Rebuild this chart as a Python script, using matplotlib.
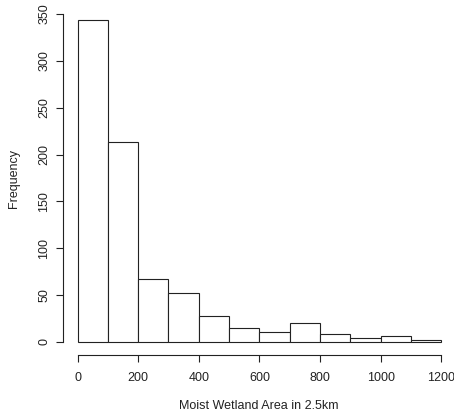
import matplotlib
matplotlib.use("Agg")
import matplotlib.pyplot as plt
import numpy as np

# histogram of moist wetland area (R-style hist)
bin_edges = [0, 100, 200, 300, 400, 500, 600, 700, 800, 900, 1000, 1100, 1200]
counts = [344, 213, 67, 52, 28, 15, 11, 20, 8, 4, 6, 2]
x_ticks = [0, 200, 400, 600, 800, 1000, 1200]
y_ticks = [0, 50, 100, 150, 200, 250, 300, 350]

plt.rcParams['font.family'] = ['Liberation Sans', 'DejaVu Sans']

fig = plt.figure(figsize=(4.54, 4.18), dpi=100)
W, H = 454, 418
ax = fig.add_axes([63 / W, 1 - 355 / H, (454 - 63) / W, (355 - 1) / H])

ax.hist(bin_edges[:-1], bins=bin_edges, weights=counts,
        facecolor='white', edgecolor='#222222', linewidth=0.8)

ax.set_xlim(-48, 1242)
ax.set_ylim(-14, 364)

for s in ['top', 'right']:
    ax.spines[s].set_visible(False)
ax.spines['left'].set_bounds(0, 350)
ax.spines['bottom'].set_bounds(0, 1200)
for s in ['left', 'bottom']:
    ax.spines[s].set_linewidth(0.8)
    ax.spines[s].set_color('#222222')

ax.set_xticks(x_ticks)
ax.set_yticks(y_ticks)
ax.set_yticklabels([str(v) for v in y_ticks], rotation=90, va='center')
ax.tick_params(axis='both', length=5, width=0.8, color='#222222',
               labelsize=9, labelcolor='#222222', pad=7)
ax.tick_params(axis='y', pad=4)

ax.set_xlabel('Moist Wetland Area in 2.5km', fontsize=9, color='#222222', labelpad=12)
ax.set_ylabel('Frequency', fontsize=9, color='#222222', labelpad=13)

fig.savefig('out.png', dpi=100)
